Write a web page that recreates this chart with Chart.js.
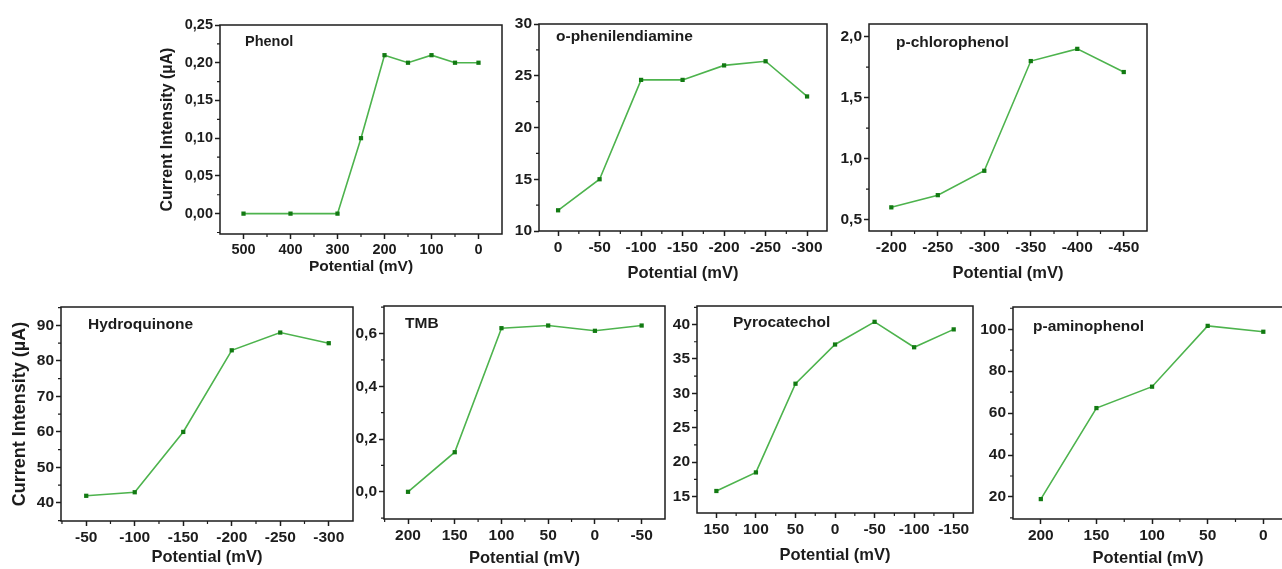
<!DOCTYPE html>
<html>
<head>
<meta charset="utf-8">
<script src="https://cdn.jsdelivr.net/npm/chart.js@4.4.1/dist/chart.umd.min.js"></script>
<style>
  html, body { margin: 0; padding: 0; background: #fff; width: 1282px; height: 569px; overflow: hidden; }
  canvas { position: absolute; }
</style>
</head>
<body>
<script>
// データ
const phenolX = [500, 400, 300, 250, 200, 150, 100, 50, 0];
const phenolY = [0, 0, 0, 0.10, 0.21, 0.20, 0.21, 0.20, 0.20];
const phenolXTicks = [500, 400, 300, 200, 100, 0];
const phenolYTicks = [0, 0.05, 0.10, 0.15, 0.20, 0.25];

const opdX = [0, -50, -100, -150, -200, -250, -300];
const opdY = [12, 15, 24.6, 24.6, 26, 26.4, 23];
const opdXTicks = [0, -50, -100, -150, -200, -250, -300];
const opdYTicks = [10, 15, 20, 25, 30];

const pcpX = [-200, -250, -300, -350, -400, -450];
const pcpY = [0.6, 0.7, 0.9, 1.8, 1.9, 1.71];
const pcpXTicks = [-200, -250, -300, -350, -400, -450];
const pcpYTicks = [0.5, 1.0, 1.5, 2.0];

const hqX = [-50, -100, -150, -200, -250, -300];
const hqY = [42, 43, 60, 83, 88, 85];
const hqXTicks = [-50, -100, -150, -200, -250, -300];
const hqYTicks = [40, 50, 60, 70, 80, 90];

const tmbX = [200, 150, 100, 50, 0, -50];
const tmbY = [0.0, 0.15, 0.62, 0.63, 0.61, 0.63];
const tmbXTicks = [200, 150, 100, 50, 0, -50];
const tmbYTicks = [0, 0.2, 0.4, 0.6];

const pyroX = [150, 100, 50, 0, -50, -100, -150];
const pyroY = [15.8, 18.5, 31.4, 37.1, 40.4, 36.7, 39.3];
const pyroXTicks = [150, 100, 50, 0, -50, -100, -150];
const pyroYTicks = [15, 20, 25, 30, 35, 40];

const papX = [200, 150, 100, 50, 0];
const papY = [19, 62.4, 72.6, 101.6, 98.8];
const papXTicks = [200, 150, 100, 50, 0];
const papYTicks = [20, 40, 60, 80, 100];

const FONT = "'Liberation Sans', Arial, sans-serif";
const INK = "#1c1c1c";
const LINE_COLOR = "#4db34d";
const MARK_COLOR = "#127a12";

// minor ticks halfway between labelled ticks
function minorsOf(ticks, lo, hi) {
  const half = (ticks[1] - ticks[0]) / 2;
  const out = [ticks[0] - half];
  for (const t of ticks) out.push(t + half);
  return out.filter(v => v > Math.min(lo, hi) && v < Math.max(lo, hi));
}

function fmt(v, dec) {
  return dec ? v.toFixed(dec).replace(".", ",") : String(Math.round(v));
}

const framePlugin = {
  id: "frame",
  afterDraw(chart, args, opts) {
    const { ctx, chartArea: a, scales } = chart;
    ctx.save();
    ctx.strokeStyle = INK;
    ctx.lineWidth = 1.5;
    ctx.strokeRect(a.left, a.top, a.right - a.left, a.bottom - a.top);
    ctx.lineWidth = 1.2;
    ctx.beginPath();
    for (const v of opts.xMinor) {
      const px = scales.x.getPixelForValue(v);
      ctx.moveTo(px, a.bottom);
      ctx.lineTo(px, a.bottom + 3);
    }
    for (const v of opts.yMinor) {
      const py = scales.y.getPixelForValue(v);
      ctx.moveTo(a.left, py);
      ctx.lineTo(a.left - 3, py);
    }
    ctx.stroke();
    // 系列名
    ctx.fillStyle = INK;
    ctx.font = "bold " + opts.size + "px " + FONT;
    ctx.textAlign = "left";
    ctx.textBaseline = "middle";
    ctx.fillText(opts.label, a.left + opts.dx, a.top + opts.dy);
    ctx.restore();
  }
};

function panel(o) {
  const PT = 14, PR = 20;
  const [l, t, r, b] = o.box;
  const w = r - l + o.yw + PR;
  const h = b - t + PT + o.xh;
  const cv = document.createElement("canvas");
  cv.width = w; cv.height = h;
  cv.style.left = (l - o.yw) + "px";
  cv.style.top = (t - PT) + "px";
  cv.style.width = w + "px";
  cv.style.height = h + "px";
  document.body.appendChild(cv);

  const tickFont = { family: FONT, size: o.fs, weight: "bold" };
  const titleFont = { family: FONT, size: o.ts, weight: "bold" };
  const yTitleFont = { family: FONT, size: o.yts || o.ts, weight: "bold" };
  const grid = { display: true, drawOnChartArea: false, drawTicks: true, tickLength: 5, tickWidth: 1.5, tickColor: INK };

  new Chart(cv, {
    type: "line",
    data: {
      datasets: [{
        data: o.xs.map((x, i) => ({ x: x, y: o.ys[i] })),
        borderColor: LINE_COLOR,
        borderWidth: 1.6,
        pointStyle: "rect",
        pointRadius: 3,
        pointBackgroundColor: MARK_COLOR,
        pointBorderWidth: 0,
        tension: 0
      }]
    },
    options: {
      responsive: false,
      animation: false,
      layout: { padding: { left: 0, top: PT, right: PR, bottom: 0 } },
      plugins: {
        legend: { display: false },
        tooltip: { enabled: false },
        frame: {
          label: o.label, dx: o.dx, dy: o.dy, size: o.ls,
          xMinor: minorsOf(o.xTicks, o.xMin, o.xMax),
          yMinor: minorsOf(o.yTicks, o.yMin, o.yMax)
        }
      },
      scales: {
        x: {
          type: "linear", reverse: true, bounds: "data",
          min: o.xMin, max: o.xMax,
          afterBuildTicks: s => { s.ticks = o.xTicks.map(v => ({ value: v })); },
          afterFit: s => { s.height = o.xh; },
          grid: grid,
          border: { display: false },
          ticks: { autoSkip: false, maxRotation: 0, padding: 2, color: INK, font: tickFont, callback: v => fmt(v, 0) },
          title: { display: true, text: "Potential (mV)", color: INK, font: titleFont, padding: 0 }
        },
        y: {
          type: "linear", bounds: "data",
          min: o.yMin, max: o.yMax,
          afterBuildTicks: s => { s.ticks = o.yTicks.map(v => ({ value: v })); },
          afterFit: s => { s.width = o.yw; },
          grid: grid,
          border: { display: false },
          ticks: { autoSkip: false, padding: 2, color: INK, font: tickFont, callback: v => fmt(v, o.yDec) },
          title: { display: !!o.yTitle, text: "Current Intensity (µA)", color: INK, font: yTitleFont, padding: 0 }
        }
      }
    },
    plugins: [framePlugin]
  });
}

panel({ box: [220, 25, 502, 234], yw: 62, xh: 42, fs: 14.5, ts: 15.5, yts: 16, ls: 14.5,
  xs: phenolX, ys: phenolY, xTicks: phenolXTicks, yTicks: phenolYTicks, yDec: 2,
  xMin: -50, xMax: 550, yMin: -0.027, yMax: 0.25,
  label: "Phenol", dx: 25, dy: 17, yTitle: true });

panel({ box: [539, 24, 827, 231], yw: 45, xh: 52, fs: 15.5, ts: 16.5, ls: 15.5,
  xs: opdX, ys: opdY, xTicks: opdXTicks, yTicks: opdYTicks, yDec: 0,
  xMin: -324, xMax: 23, yMin: 10, yMax: 30,
  label: "o-phenilendiamine", dx: 17, dy: 13 });

panel({ box: [869, 24, 1147, 231], yw: 45, xh: 52, fs: 15.5, ts: 16.5, ls: 15.5,
  xs: pcpX, ys: pcpY, xTicks: pcpXTicks, yTicks: pcpYTicks, yDec: 1,
  xMin: -475, xMax: -176, yMin: 0.406, yMax: 2.104,
  label: "p-chlorophenol", dx: 27, dy: 19 });

panel({ box: [61, 307, 353, 521], yw: 52, xh: 46, fs: 15.5, ts: 16.5, yts: 18, ls: 15.5,
  xs: hqX, ys: hqY, xTicks: hqXTicks, yTicks: hqYTicks, yDec: 0,
  xMin: -325, xMax: -24, yMin: 34.9, yMax: 95.2,
  label: "Hydroquinone", dx: 27, dy: 18, yTitle: true });

panel({ box: [384, 306, 665, 519], yw: 45, xh: 49, fs: 15.5, ts: 16.5, ls: 15.5,
  xs: tmbX, ys: tmbY, xTicks: tmbXTicks, yTicks: tmbYTicks, yDec: 1,
  xMin: -75, xMax: 225.7, yMin: -0.103, yMax: 0.704,
  label: "TMB", dx: 21, dy: 18 });

panel({ box: [697, 306, 973, 513], yw: 45, xh: 52, fs: 15.5, ts: 16.5, ls: 15.5,
  xs: pyroX, ys: pyroY, xTicks: pyroXTicks, yTicks: pyroYTicks, yDec: 0,
  xMin: -174.4, xMax: 174.5, yMin: 12.6, yMax: 42.7,
  label: "Pyrocatechol", dx: 36, dy: 17 });

panel({ box: [1013, 307, 1283, 519], yw: 45, xh: 49, fs: 15.5, ts: 16.5, ls: 15.5,
  xs: papX, ys: papY, xTicks: papXTicks, yTicks: papYTicks, yDec: 0,
  xMin: -17.7, xMax: 225, yMin: 9.5, yMax: 110.6,
  label: "p-aminophenol", dx: 20, dy: 20 });
</script>
</body>
</html>
